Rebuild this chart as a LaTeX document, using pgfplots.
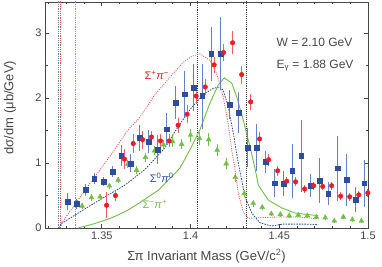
\documentclass[border=0pt]{standalone}
\usepackage{fontspec}
\setmainfont{Liberation Sans}
\usepackage{pgfplots}
\usepackage{pgfplotstable}
\pgfplotsset{compat=1.18}
\definecolor{cblue}{RGB}{45,78,160}
\definecolor{cblueerr}{RGB}{100,128,198}
\definecolor{cred}{RGB}{235,28,36}
\definecolor{crederr}{RGB}{242,95,95}
\definecolor{cgreen}{RGB}{112,192,72}
\definecolor{caxis}{RGB}{70,70,70}

\pgfplotstableread{
x y e
1.3307 0.405 0.13
1.3357 0.37 0.07
1.3408 0.585 0.09
1.3457 0.76 0.08
1.3510 0.71 0.07
1.3560 0.87 0.09
1.3609 1.11 0.16
1.3662 0.995 0.14
1.3712 1.39 0.2
1.3763 1.33 0.18
1.3814 1.21 0.22
1.3865 1.52 0.25
1.3916 1.93 0.25
1.3966 2.06 0.35
1.4017 2.16 0.36
1.4066 2.03 0.5
1.4116 2.68 0.42
1.4169 2.68 0.56
1.4220 1.90 0.22
1.4271 1.78 0.32
1.4322 1.24 0.3
1.4373 1.24 0.36
1.4423 1.02 0.17
1.4474 0.69 0.22
1.4525 0.68 0.19
1.4573 0.88 0.42
1.4624 1.11 0.55
1.4675 0.65 0.18
1.4726 0.73 0.35
1.4776 0.53 0.18
1.4827 0.92 0.5
1.4878 0.74 0.4
1.4929 0.44 0.19
1.4979 0.69 0.36
}\blue

\pgfplotstableread{
x y e
1.3527 0.35 0.2
1.3577 0.50 0.08
1.3628 1.06 0.15
1.3677 1.30 0.15
1.3730 1.36 0.14
1.3780 1.40 0.1
1.3831 1.34 0.1
1.3880 1.34 0.1
1.3930 1.58 0.12
1.3981 1.75 0.14
1.4032 2.03 0.12
1.4083 2.17 0.12
1.4133 2.51 0.12
1.4186 2.70 0.13
1.4237 2.85 0.18
1.4288 2.36 0.14
1.4339 1.94 0.12
1.4389 1.37 0.1
1.4440 1.05 0.09
1.4491 0.88 0.08
1.4542 0.72 0.07
1.4592 0.71 0.07
1.4643 0.60 0.06
1.4694 0.65 0.06
1.4745 0.64 0.06
1.4795 0.65 0.06
1.4846 0.49 0.06
1.4897 0.48 0.06
1.4948 0.51 0.06
1.4999 0.54 0.06
}\red

\pgfplotstableread{
x y e
1.3389 0.34 0.04
1.3442 0.47 0.05
1.3490 0.48 0.05
1.3543 0.65 0.05
1.3592 0.74 0.05
1.3645 0.98 0.06
1.3696 0.89 0.06
1.3746 1.09 0.07
1.3797 1.19 0.07
1.3848 1.28 0.07
1.3899 1.33 0.08
1.3950 1.29 0.08
1.4000 1.43 0.1
1.4051 1.38 0.1
1.4102 1.36 0.1
1.4150 1.20 0.09
1.4201 0.99 0.08
1.4252 0.78 0.07
1.4303 0.53 0.06
1.4353 0.38 0.05
1.4404 0.32 0.04
1.4455 0.22 0.04
1.4506 0.21 0.04
1.4556 0.19 0.03
1.4607 0.20 0.03
1.4658 0.19 0.03
1.4709 0.17 0.03
1.4759 0.16 0.03
1.4810 0.11 0.03
1.4861 0.17 0.03
1.4912 0.13 0.03
1.4963 0.11 0.03
}\green

\begin{document}
\begin{tikzpicture}
\begin{axis}[
  at={(0,0)}, anchor=south west,
  scale only axis, width=323pt, height=226pt,
  xmin=1.318, xmax=1.5, ymin=0, ymax=3.477,
  xtick={1.35,1.4,1.45,1.5},
  minor xtick={1.32,1.33,1.34,1.36,1.37,1.38,1.39,1.41,1.42,1.43,1.44,1.46,1.47,1.48,1.49},
  ytick={0,1,2,3}, minor ytick={0.5,1.5,2.5},
  tick align=inside,
  major tick length=4pt, minor tick length=2.5pt,
  axis line style={caxis, line width=0.8pt},
  tick style={caxis, line width=0.6pt},
  /pgf/number format/assume math mode=true,
  xticklabel={\pgfmathprintnumber[fixed,precision=2]{\tick}},
  ticklabel style={font=\fontsize{11}{13}\selectfont, text=caxis},
  xlabel={Σπ Invariant Mass (GeV/c\textsuperscript{2})},
  ylabel={dσ/dm (μb/GeV)},
  xlabel style={font=\fontsize{13}{15}\selectfont, text=caxis, at={(axis description cs:0.5,-0.142)}, anchor=base},
  ylabel style={font=\fontsize{13}{15}\selectfont, text=caxis, at={(axis description cs:-0.108,0.533)}, anchor=center},
  clip=true,
]
% thresholds
\addplot[cblue!70, line width=0.8pt, densely dotted] coordinates {(1.3257,0) (1.3257,3.5)};
\addplot[cred!80, line width=0.8pt, densely dotted] coordinates {(1.3269,0) (1.3269,3.5)};
\addplot[cgreen, line width=0.8pt, densely dotted] coordinates {(1.3353,0) (1.3353,3.5)};
\addplot[caxis, line width=0.9pt, densely dotted] coordinates {(1.404,0) (1.404,3.5)};
\addplot[caxis, line width=0.9pt, densely dotted] coordinates {(1.4316,0) (1.4316,3.5)};
% theory curves
\addplot[cred!80, line width=0.8pt, dash pattern=on 1pt off 1.3pt] coordinates {
(1.3268,0) (1.3275,0.08) (1.3366,0.43) (1.345,0.75) (1.355,1.12) (1.3648,1.51) (1.3714,1.70) (1.3799,2.05) (1.3884,2.32) (1.3959,2.55) (1.4005,2.64) (1.4053,2.68) (1.4109,2.58) (1.4147,2.38) (1.4184,2.02) (1.4212,1.61) (1.4232,1.20) (1.425,0.92) (1.4269,0.53) (1.4297,0.25) (1.4325,0.15) (1.44,0.16) (1.45,0.17) (1.46,0.17) (1.472,0.14)};
\addplot[cblue, line width=0.8pt, dash pattern=on 1.6pt off 1.1pt] coordinates {
(1.3257,0) (1.3273,0.07) (1.345,0.37) (1.363,0.66) (1.3743,0.90) (1.3855,1.23) (1.3921,1.52) (1.3996,1.82) (1.4071,2.05) (1.4128,2.15) (1.4166,2.17) (1.4184,2.12) (1.4212,1.87) (1.4241,1.46) (1.4269,1.0) (1.4307,0.48) (1.4345,0.23) (1.4391,0.08) (1.4457,0.03) (1.452,0.06) (1.459,0.06) (1.465,0.06) (1.472,0.05)};
\addplot[cgreen, line width=0.9pt] coordinates {
(1.3366,0) (1.345,0.06) (1.355,0.15) (1.363,0.25) (1.3686,0.34) (1.3818,0.58) (1.394,0.92) (1.3996,1.2) (1.4053,1.51) (1.4109,1.92) (1.4156,2.2) (1.419,2.31) (1.4232,2.23) (1.426,2.02) (1.4297,1.66) (1.4335,1.25) (1.4363,0.92) (1.4382,0.66) (1.4438,0.43) (1.4513,0.31) (1.4589,0.23) (1.465,0.21) (1.472,0.19)};
% data
\addplot[only marks, mark=triangle*, mark size=2.8pt, color=cgreen,
  error bars/.cd, y dir=both, y explicit, error mark=none,
  error bar style={cgreen, line width=1pt}] table[x=x, y=y, y error=e] {\green};
\addplot[only marks, mark=square*, mark size=2.4pt, color=cblue,
  error bars/.cd, y dir=both, y explicit, error mark=none,
  error bar style={cblueerr, line width=1.2pt}] table[x=x, y=y, y error=e] {\blue};
\addplot[only marks, mark=*, mark size=2.3pt, color=cred,
  error bars/.cd, y dir=both, y explicit, error mark=none,
  error bar style={crederr, line width=1.2pt}] table[x=x, y=y, y error=e] {\red};
% labels
\node[text=cred, font=\fontsize{11}{13}\selectfont] at (axis cs:1.381,2.35) {Σ\textsuperscript{+}\textit{π}\textsuperscript{−}};
\node[text=cblue, font=\fontsize{11}{13}\selectfont] at (axis cs:1.3838,0.77) {Σ\textsuperscript{0}\textit{π}\textsuperscript{0}};
\node[text=cgreen, font=\fontsize{11}{13}\selectfont] at (axis cs:1.3799,0.37) {Σ\textsuperscript{−}\textit{π}\textsuperscript{+}};
\node[anchor=base west, text=caxis, font=\fontsize{12}{14}\selectfont, inner sep=0pt] at (axis cs:1.4484,2.79) {W = 2.10 GeV};
\node[anchor=base west, text=caxis, font=\fontsize{12}{14}\selectfont, inner sep=0pt] at (axis cs:1.4484,2.46) {E\textsubscript{γ} = 1.88 GeV};
\end{axis}
\pgfresetboundingbox
\path[use as bounding box] (-45pt,-39pt) rectangle (337pt,228pt);
\end{tikzpicture}
\end{document}
